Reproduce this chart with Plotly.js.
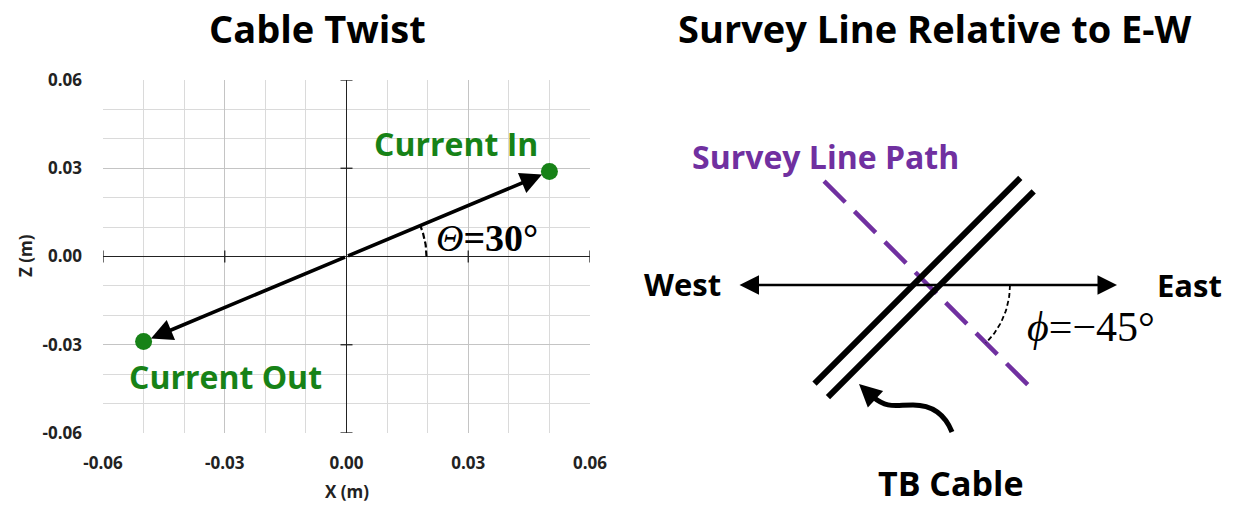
<!DOCTYPE html>
<html>
<head>
<meta charset="utf-8">
<script src="https://cdn.plot.ly/plotly-3.0.1.min.js"></script>
<style>html,body{margin:0;padding:0;background:#fff;}#chart{width:1233px;height:506px;}</style>
</head>
<body>
<div id="chart"></div>
<script>
// ---------- data ----------
const pointX = [0.05, -0.05];
const pointZ = [0.0289, -0.0289];
const pointLabels = ['Current In', 'Current Out'];
const labelX = [0.0271, -0.0298];
const labelZ = [0.0384, -0.0408];
const tickVals = [-0.06, -0.03, 0, 0.03, 0.06];
const tickText = ['-0.06', '-0.03', '0.00', '0.03', '0.06'];
const thetaDeg = 30;
const phiDeg = -45;
const cableDeg = 45;
const titles = ['Cable Twist', 'Survey Line Relative to E-W'];
const compass = ['West', 'East'];
// diagram (right panel), units relative to crossing point
const ewEnds = [-190, 189];
const cableSpan = [-150, 141];
const cableOffsets = [10.5, -8.5];
const surveySpan = [-147, 146];
const phiArcRadius = 82;

// ---------- helpers ----------
const W = 1233, H = 506;
const pxL = 103, pxR = 590, pxT = 80, pxB = 433;
const xUnitPx = (pxR - pxL) / 0.12, yUnitPx = (pxB - pxT) / 0.12;
const green = '#178217', purple = '#7030A0';
const sans = 'Open Sans, Lato, sans-serif';
const serif = 'Liberation Serif, Times New Roman, serif';
const rad = d => d * Math.PI / 180;

const shapes = [];
// ticks on zero lines (left plot)
tickVals.filter(v => v !== 0).forEach(v => {
  shapes.push({type:'line', xref:'x', yref:'y', x0:v, x1:v, y0:-6/yUnitPx, y1:6/yUnitPx, line:{color:'#222', width:1.3}});
  shapes.push({type:'line', xref:'x', yref:'y', y0:v, y1:v, x0:-6/xUnitPx, x1:6/xUnitPx, line:{color:'#222', width:1.3}});
});

// theta arc (in pixel-angle space)
const pixAng = Math.atan2(pointZ[0] * yUnitPx, pointX[0] * xUnitPx);
const thArcX = [], thArcY = [];
for (let i = 0; i <= 20; i++) {
  const t = pixAng * i / 20;
  thArcX.push(80 * Math.cos(t) / xUnitPx);
  thArcY.push(80 * Math.sin(t) / yUnitPx);
}

// right panel: cable lines
const cd = [Math.cos(rad(cableDeg)), Math.sin(rad(cableDeg))];
const cp = [-cd[1], cd[0]];
cableOffsets.forEach(o => {
  shapes.push({type:'line', xref:'x2', yref:'y2',
    x0: cableSpan[0]*cd[0] + o*cp[0], y0: cableSpan[0]*cd[1] + o*cp[1],
    x1: cableSpan[1]*cd[0] + o*cp[0], y1: cableSpan[1]*cd[1] + o*cp[1],
    line:{color:'#000', width:6}});
});
// survey line
const sd = [Math.cos(rad(phiDeg)), Math.sin(rad(phiDeg))];
const survey = {x:[surveySpan[0]*sd[0], surveySpan[1]*sd[0]], y:[surveySpan[0]*sd[1], surveySpan[1]*sd[1]]};
// phi arc
const phArcX = [], phArcY = [];
for (let i = 0; i <= 24; i++) {
  const t = rad(phiDeg) * i / 24;
  phArcX.push(phiArcRadius * Math.cos(t));
  phArcY.push(phiArcRadius * Math.sin(t));
}
// curvy pointer
shapes.push({type:'path', xref:'x2', yref:'y2',
  path:'M 24 -147 C 18 -132, 6 -120, -15 -120 C -33 -120, -40 -124, -55 -112',
  line:{color:'#000', width:5}});

const traces = [
  {x:thArcX, y:thArcY, xaxis:'x', yaxis:'y', mode:'lines', line:{color:'#000', width:2.2, dash:'6px,3px'}, showlegend:false, hoverinfo:'skip'},
  {x:pointX, y:pointZ, xaxis:'x', yaxis:'y', mode:'markers', marker:{color:green, size:17}, showlegend:false},
  {x:survey.x, y:survey.y, xaxis:'x2', yaxis:'y2', mode:'lines', line:{color:purple, width:4.5, dash:'30px,13px'}, showlegend:false, hoverinfo:'skip'},
  {x:phArcX, y:phArcY, xaxis:'x2', yaxis:'y2', mode:'lines', line:{color:'#000', width:1.8, dash:'5px,3px'}, showlegend:false, hoverinfo:'skip'}
];

const C = {xanchor:'center', yanchor:'middle', showarrow:false};
const ann = [];
// titles
ann.push(Object.assign({text:titles[0], xref:'paper', yref:'paper', x:317/W, y:1-28/H, font:{family:sans, size:38, color:'#000', weight:700}}, C));
ann.push(Object.assign({text:titles[1], xref:'paper', yref:'paper', x:935/W, y:1-28/H, font:{family:sans, size:38, color:'#000', weight:700}}, C));
// axis titles
ann.push(Object.assign({text:'X (m)', xref:'paper', yref:'paper', x:347/W, y:1-491/H, font:{family:sans, size:17, color:'#222', weight:700}}, C));
ann.push(Object.assign({text:'Z (m)', xref:'paper', yref:'paper', x:26/W, y:1-256/H, textangle:-90, font:{family:sans, size:17, color:'#222', weight:700}}, C));
// arrows origin -> points
pointX.forEach((px, i) => {
  ann.push({x:px, y:pointZ[i], xref:'x', yref:'y', ax:0, ay:0, axref:'x', ayref:'y', showarrow:true,
    arrowhead:2, arrowsize:1.2, arrowwidth:3.6, arrowcolor:'#000', standoff:8, text:''});
  ann.push(Object.assign({x:labelX[i], y:labelZ[i], xref:'x', yref:'y', text:pointLabels[i],
    font:{family:sans, size:32, color:green, weight:700}}, C));
});
// theta label
ann.push(Object.assign({x:0.0347, y:0.0062, xref:'x', yref:'y',
  text:'<i>Θ</i><b>=' + thetaDeg + '°</b>', font:{family:serif, size:38, color:'#000'}}, C));
// E-W arrow
ann.push({x:ewEnds[1], y:0, ax:ewEnds[0], ay:0, xref:'x2', yref:'y2', axref:'x2', ayref:'y2', showarrow:true,
  arrowhead:2, startarrowhead:2, arrowside:'end+start', arrowsize:1.5, startarrowsize:1.5, arrowwidth:2.6, arrowcolor:'#000', text:''});
ann.push(Object.assign({x:-246, y:1, xref:'x2', yref:'y2', text:compass[0], font:{family:sans, size:31, color:'#000', weight:700}}, C));
ann.push(Object.assign({x:261, y:0, xref:'x2', yref:'y2', text:compass[1], font:{family:sans, size:31, color:'#000', weight:700}}, C));
// survey label
ann.push(Object.assign({x:-103, y:129, xref:'x2', yref:'y2', text:'Survey Line Path', font:{family:sans, size:32, color:purple, weight:700}}, C));
// TB Cable
ann.push(Object.assign({x:23, y:-198, xref:'x2', yref:'y2', text:'TB Cable', font:{family:sans, size:34, color:'#000', weight:700}}, C));
// pointer arrowhead
ann.push({x:-69, y:-99, ax:-55, ay:-112, xref:'x2', yref:'y2', axref:'x2', ayref:'y2', showarrow:true,
  arrowhead:2, arrowsize:0.9, arrowwidth:5, arrowcolor:'#000', text:''});
// phi label
ann.push(Object.assign({x:163, y:-42, xref:'x2', yref:'y2',
  text:'<i>ϕ</i>=−' + Math.abs(phiDeg) + '°', font:{family:serif, size:42, color:'#000'}}, C));

const axisCommon = {
  range:[-0.06, 0.06], tickmode:'array', tickvals:tickVals, ticktext:tickText, ticks:'',
  showgrid:true, gridcolor:'#c4c4c4', gridwidth:1,
  minor:{dtick:0.01, tick0:0, showgrid:true, gridcolor:'#dadada', gridwidth:1},
  zeroline:true, zerolinecolor:'#222', zerolinewidth:1.4,
  showline:false, fixedrange:true,
  tickfont:{family:sans, size:17, color:'#222', weight:700}
};

const layout = {
  width:W, height:H, margin:{l:0, r:0, t:0, b:0},
  paper_bgcolor:'#fff', plot_bgcolor:'#fff', showlegend:false,
  xaxis:Object.assign({}, axisCommon, {domain:[pxL/W, pxR/W], anchor:'y', ticklabelstandoff:18}),
  yaxis:Object.assign({}, axisCommon, {domain:[1-pxB/H, 1-pxT/H], anchor:'x', ticklabelstandoff:20}),
  xaxis2:{domain:[620/W, 1], range:[-308, 305], visible:false, anchor:'y2', fixedrange:true},
  yaxis2:{domain:[0, 1], range:[-221, 285], visible:false, anchor:'x2', fixedrange:true},
  shapes:shapes, annotations:ann
};

Plotly.newPlot('chart', traces, layout, {displayModeBar:false, staticPlot:true});
</script>
</body>
</html>
